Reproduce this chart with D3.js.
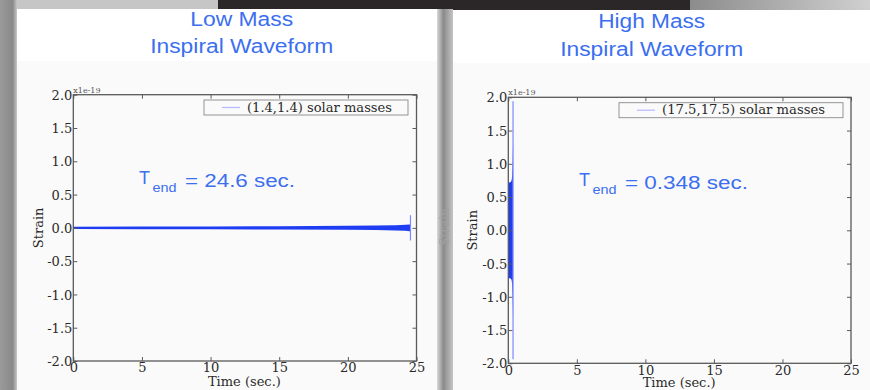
<!DOCTYPE html>
<html><head><meta charset="utf-8">
<script src="https://cdn.jsdelivr.net/npm/d3@7"></script>
<style>html,body{margin:0;padding:0;background:#b8b8b8;}svg{display:block;}</style>
</head><body>
<svg id="c" width="870" height="390"></svg>
<script>
// ---- data (strain in units of 1e-19, time in seconds) ----
const xTickValues = [0, 5, 10, 15, 20, 25];
const yTickValues = [-2.0, -1.5, -1.0, -0.5, 0.0, 0.5, 1.0, 1.5, 2.0];
const titlesLow = ["Low Mass", "Inspiral Waveform"];
const titlesHigh = ["High Mass", "Inspiral Waveform"];
const legendLow = "(1.4,1.4) solar masses";
const legendHigh = "(17.5,17.5) solar masses";
const tEndLow = "= 24.6 sec.";
const tEndHigh = "= 0.348 sec.";
// envelope of the low-mass chirp
const lowTime = [0, 5, 10, 15, 20, 22, 23.5, 24.2, 24.5, 24.6];
const lowAmp  = [0.018, 0.02, 0.022, 0.025, 0.03, 0.034, 0.04, 0.045, 0.05, 0.05];
const lowSpike = [24.56, 0.19];
// envelope of the high-mass chirp
const highTime = [0, 0.1, 0.2, 0.25, 0.28, 0.3, 0.32, 0.335, 0.345, 0.348];
const highAmp  = [0.72, 0.72, 0.73, 0.76, 0.82, 0.92, 1.05, 1.2, 1.3, 1.3];
const highSpike = [0.345, 1.94];

const svg = d3.select("#c");
const defs = svg.append("defs");
const g1 = defs.append("linearGradient").attr("id","lstrip").attr("x1","0").attr("x2","1");
g1.append("stop").attr("offset","0").attr("stop-color","#9a9a9a");
g1.append("stop").attr("offset","0.75").attr("stop-color","#8a8a8a");
g1.append("stop").attr("offset","1").attr("stop-color","#c8c8c8");
const g2 = defs.append("linearGradient").attr("id","mstrip").attr("x1","0").attr("x2","1");
g2.append("stop").attr("offset","0").attr("stop-color","#d8d8d8");
g2.append("stop").attr("offset","0.4").attr("stop-color","#8a8a8a");
g2.append("stop").attr("offset","1").attr("stop-color","#c4c4c4");
const g3 = defs.append("linearGradient").attr("id","trstrip").attr("x1","0").attr("x2","1");
g3.append("stop").attr("offset","0").attr("stop-color","#8c8c8c");
g3.append("stop").attr("offset","1").attr("stop-color","#d0d0d0");

// background pieces
svg.append("rect").attr("x",0).attr("y",0).attr("width",870).attr("height",390).attr("fill","#c6c6c6");
svg.append("rect").attr("x",0).attr("y",0).attr("width",17).attr("height",390).attr("fill","url(#lstrip)");
svg.append("rect").attr("x",218).attr("y",0).attr("width",472).attr("height",10).attr("fill","#2b2628");
svg.append("rect").attr("x",690).attr("y",0).attr("width",180).attr("height",10).attr("fill","url(#trstrip)");
svg.append("rect").attr("x",437).attr("y",9).attr("width",16).attr("height",381).attr("fill","url(#mstrip)");
svg.append("text").attr("transform","translate(449,227) rotate(-90)").attr("text-anchor","middle")
  .attr("font-family","DejaVu Serif").attr("font-size",12).attr("fill","#a0a0a0").text("Strain");

// cards
function card(x, y, w, h, split) {
  svg.append("rect").attr("x",x).attr("y",y).attr("width",w).attr("height",h).attr("fill","#fafafa");
  svg.append("rect").attr("x",x).attr("y",y).attr("width",w).attr("height",split - y).attr("fill","#ffffff");
}
card(17, 9, 420, 381, 61);
card(453, 10, 417, 380, 63);

const blue = "#3b6ff0";

function panel(cfg) {
  const x = d3.scaleLinear().domain([0, 25]).range([cfg.left, cfg.right]);
  const y = d3.scaleLinear().domain([-2, 2]).range([cfg.bottom, cfg.top]);
  const g = svg.append("g");

  // titles
  g.append("text").attr("x", cfg.tx).attr("y", cfg.t1y).attr("text-anchor","middle")
    .attr("font-family","Liberation Sans, Arial").attr("font-size",20).attr("fill",blue)
    .attr("textLength", cfg.t1w).attr("lengthAdjust","spacingAndGlyphs").text(cfg.titles[0]);
  g.append("text").attr("x", cfg.tx).attr("y", cfg.t2y).attr("text-anchor","middle")
    .attr("font-family","Liberation Sans, Arial").attr("font-size",20).attr("fill",blue)
    .attr("textLength", 183).attr("lengthAdjust","spacingAndGlyphs").text(cfg.titles[1]);

  // data envelope
  const area = d3.area().x((d,i) => x(cfg.time[i])).y0((d) => y(-d)).y1((d) => y(d));
  g.append("path").datum(cfg.amp).attr("d", area).attr("fill", "#1e3cf2");
  g.append("line").attr("x1", x(cfg.spike[0])).attr("x2", x(cfg.spike[0]))
    .attr("y1", y(cfg.spike[1])).attr("y2", y(-cfg.spike[1]))
    .attr("stroke", "#7f88ff").attr("stroke-width", 1.2);

  // frame
  g.append("rect").attr("x", cfg.left).attr("y", cfg.top).attr("width", cfg.right - cfg.left)
    .attr("height", cfg.bottom - cfg.top).attr("fill","none").attr("stroke","#5a5a5a").attr("stroke-width",1.3);

  // axes (inward ticks on all sides)
  const font = "DejaVu Serif";
  const axB = d3.axisBottom(x).tickValues(xTickValues).tickSize(-4).tickFormat(d3.format("d"));
  const axT = d3.axisTop(x).tickValues(xTickValues).tickSize(-4).tickFormat("");
  const axL = d3.axisLeft(y).tickValues(yTickValues).tickSize(-4).tickFormat(d => d3.format(".1f")(d).replace("−","-"));
  const axR = d3.axisRight(y).tickValues(yTickValues).tickSize(-4).tickFormat("");
  function style(sel) {
    sel.select(".domain").remove();
    sel.selectAll(".tick line").attr("stroke","#5a5a5a").attr("stroke-width",1);
    sel.selectAll(".tick text").attr("font-family",font).attr("font-size",13).attr("fill","#2a2a2a");
  }
  const b = g.append("g").attr("transform",`translate(0,${cfg.bottom})`).call(axB); style(b);
  b.selectAll(".tick text").attr("y", 0).attr("dy", null).attr("transform", `translate(0,${cfg.xlabY - cfg.bottom})`);
  const t = g.append("g").attr("transform",`translate(0,${cfg.top})`).call(axT); style(t);
  const l = g.append("g").attr("transform",`translate(${cfg.left},0)`).call(axL); style(l);
  l.selectAll(".tick text").attr("x", -1).attr("dy","0.36em");
  const r = g.append("g").attr("transform",`translate(${cfg.right},0)`).call(axR); style(r);

  g.append("text").attr("x", cfg.left).attr("y", cfg.top - 2).attr("font-family",font)
    .attr("font-size",8).attr("fill","#555").text("x1e-19");

  g.append("text").attr("transform",`translate(${cfg.sx},${(cfg.top+cfg.bottom)/2}) rotate(-90)`)
    .attr("text-anchor","middle").attr("font-family",font).attr("font-size",13).attr("fill","#2a2a2a").text("Strain");
  g.append("text").attr("x",(cfg.left+cfg.right)/2 - 0.5).attr("y",cfg.timeY).attr("text-anchor","middle")
    .attr("font-family",font).attr("font-size",13).attr("fill","#2a2a2a").text("Time (sec.)");

  // legend
  g.append("rect").attr("x",cfg.lg[0]).attr("y",cfg.lg[1]).attr("width",cfg.lg[2]).attr("height",15)
    .attr("fill","#fafafa").attr("stroke","#8a8a8a").attr("stroke-width",0.9);
  g.append("line").attr("x1",cfg.lg[0]+18).attr("x2",cfg.lg[0]+36).attr("y1",cfg.lg[1]+7.5).attr("y2",cfg.lg[1]+7.5)
    .attr("stroke","#b4b8ff").attr("stroke-width",1.2);
  g.append("text").attr("x",cfg.lg[0]+43).attr("y",cfg.lg[1]+11.5).attr("font-family",font)
    .attr("font-size",12.5).attr("fill","#2a2a2a").attr("textLength",cfg.lgw).attr("lengthAdjust","spacingAndGlyphs")
    .text(cfg.legend);

  // T_end annotation
  g.append("text").attr("x",cfg.te[0]).attr("y",cfg.te[1]).attr("font-family","Liberation Sans, Arial")
    .attr("font-size",18).attr("fill",blue).attr("textLength",11).attr("lengthAdjust","spacingAndGlyphs").text("T");
  g.append("text").attr("x",cfg.te[0]+13.5).attr("y",cfg.te[1]+8).attr("font-family","Liberation Sans, Arial")
    .attr("font-size",12).attr("fill",blue).attr("textLength",24).attr("lengthAdjust","spacingAndGlyphs").text("end");
  g.append("text").attr("x",cfg.te[0]+46).attr("y",cfg.te[1]+3.3).attr("font-family","Liberation Sans, Arial")
    .attr("font-size",18).attr("fill",blue).attr("textLength",cfg.tew).attr("lengthAdjust","spacingAndGlyphs").text(cfg.tetext);
}

panel({left:73.3, right:416.5, top:94.7, bottom:361, tx:241.7, t1y:26, t2y:53, t1w:103, titles:titlesLow,
  time:lowTime, amp:lowAmp, spike:lowSpike, xlabY:372, sx:43, timeY:385.5,
  lg:[204,100,204], lgw:145, legend:legendLow, te:[139,184], tetext:tEndLow, tew:110});
panel({left:508.3, right:851, top:97.3, bottom:363.3, tx:651.7, t1y:28.3, t2y:56, t1w:107, titles:titlesHigh,
  time:highTime, amp:highAmp, spike:highSpike, xlabY:374.5, sx:477, timeY:386.5,
  lg:[619,102.7,224], lgw:163, legend:legendHigh, te:[579,185.7], tetext:tEndHigh, tew:123});
</script>
</body></html>
